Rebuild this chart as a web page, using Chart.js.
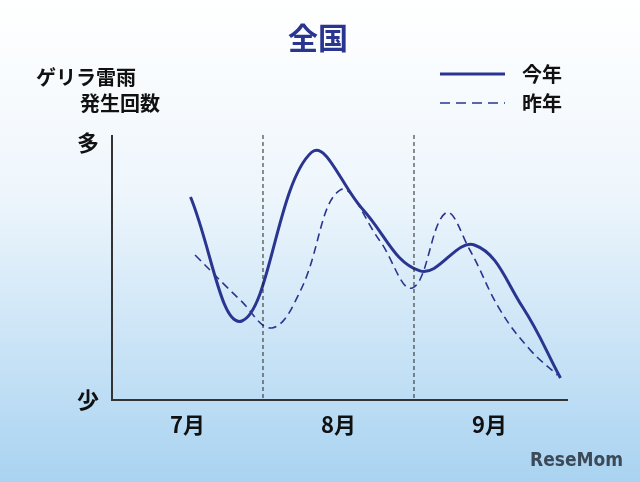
<!DOCTYPE html>
<html>
<head>
<meta charset="utf-8">
<script src="https://cdn.jsdelivr.net/npm/chart.js@4"></script>
<style>
  html, body { margin: 0; padding: 0; }
  body { width: 640px; height: 482px; background: linear-gradient(#ffffff 0%, #eef6fc 40%, #a9d3f1 100%); }
  #wrap { width: 640px; height: 482px; }
</style>
</head>
<body>
<div id="wrap"><canvas id="myChart"></canvas></div>
<script>
// x: months since start of July (0..3), y: relative frequency (0 = 少, 100 = 多)
const monthLabels = ["7月", "8月", "9月"];
const thisYearX = [0.52, 0.86, 1.32, 1.66, 2.04, 2.40, 2.72, 2.97];
const thisYearY = [76.6, 29.8, 93.4, 72.0, 48.7, 58.5, 35.0, 8.3];
const lastYearX = [0.55, 0.85, 1.06, 1.25, 1.51, 1.77, 1.99, 2.21, 2.37, 2.57, 2.77, 2.95];
const lastYearY = [54.7, 37.7, 27.2, 41.5, 79.2, 60.4, 42.3, 70.6, 56.6, 34.0, 18.9, 9.4];

const navy = "#2a3590";

function toPoints(xs, ys) {
    return xs.map((x, i) => ({ x: x, y: ys[i] }));
}

const decor = {
    id: "decor",
    afterDatasetsDraw(chart) {
        const ctx = chart.ctx;
        const xs = chart.scales.x, ys = chart.scales.y;
        const left = xs.getPixelForValue(0), right = xs.getPixelForValue(3.02);
        const top = ys.getPixelForValue(100), bottom = ys.getPixelForValue(0);
        ctx.save();
        // month separators
        ctx.strokeStyle = "#222";
        ctx.lineWidth = 1;
        ctx.setLineDash([4, 3]);
        [1, 2].forEach(m => {
            const px = xs.getPixelForValue(m);
            ctx.beginPath(); ctx.moveTo(px, top); ctx.lineTo(px, bottom); ctx.stroke();
        });
        ctx.setLineDash([]);
        // axes
        ctx.strokeStyle = "#333";
        ctx.lineWidth = 2;
        ctx.beginPath();
        ctx.moveTo(left, top); ctx.lineTo(left, bottom); ctx.lineTo(right, bottom);
        ctx.stroke();
        // texts
        ctx.fillStyle = "#111";
        ctx.font = "bold 22px 'Noto Sans CJK JP'";
        ctx.textBaseline = "middle";
        ctx.textAlign = "center";
        monthLabels.forEach((t, i) => ctx.fillText(t, xs.getPixelForValue(i + 0.5), 425));
        ctx.fillText("多", 88, ys.getPixelForValue(100) + 8);
        ctx.fillText("少", 88, ys.getPixelForValue(0));
        ctx.font = "bold 20px 'Noto Sans CJK JP'";
        ctx.textAlign = "left";
        ctx.fillText("ゲリラ雷雨", 36, 77);
        ctx.fillText("発生回数", 80, 103);
        ctx.fillText("今年", 522, 74);
        ctx.fillText("昨年", 522, 103);
        ctx.fillStyle = navy;
        ctx.font = "bold 30px 'Noto Sans CJK JP'";
        ctx.textAlign = "center";
        ctx.fillText("全国", 318, 38);
        // legend lines
        ctx.strokeStyle = navy;
        ctx.lineWidth = 3;
        ctx.beginPath(); ctx.moveTo(440, 74); ctx.lineTo(505, 74); ctx.stroke();
        ctx.lineWidth = 1.6;
        ctx.setLineDash([10, 6]);
        ctx.beginPath(); ctx.moveTo(440, 103); ctx.lineTo(505, 103); ctx.stroke();
        ctx.setLineDash([]);
        // logo
        ctx.fillStyle = "#3c4a58";
        ctx.font = "bold 19px 'DejaVu Sans Condensed'";
        ctx.textAlign = "left";
        ctx.fillText("ReseMom", 530, 461);
        ctx.restore();
    }
};

new Chart(document.getElementById("myChart"), {
    type: "line",
    data: {
        datasets: [{
            label: "今年",
            data: toPoints(thisYearX, thisYearY),
            borderColor: navy,
            borderWidth: 3,
            pointRadius: 0,
            tension: 0.4
        }, {
            label: "昨年",
            data: toPoints(lastYearX, lastYearY),
            borderColor: navy,
            borderWidth: 1.6,
            borderDash: [8, 5],
            pointRadius: 0,
            tension: 0.4
        }]
    },
    options: {
        responsive: true,
        maintainAspectRatio: false,
        animation: false,
        layout: { padding: { left: 112, right: 72, top: 135, bottom: 82 } },
        plugins: { legend: { display: false }, tooltip: { enabled: false } },
        scales: {
            x: { type: "linear", min: 0, max: 3.02, display: false },
            y: { min: 0, max: 100, display: false }
        }
    },
    plugins: [decor]
});
</script>
</body>
</html>
